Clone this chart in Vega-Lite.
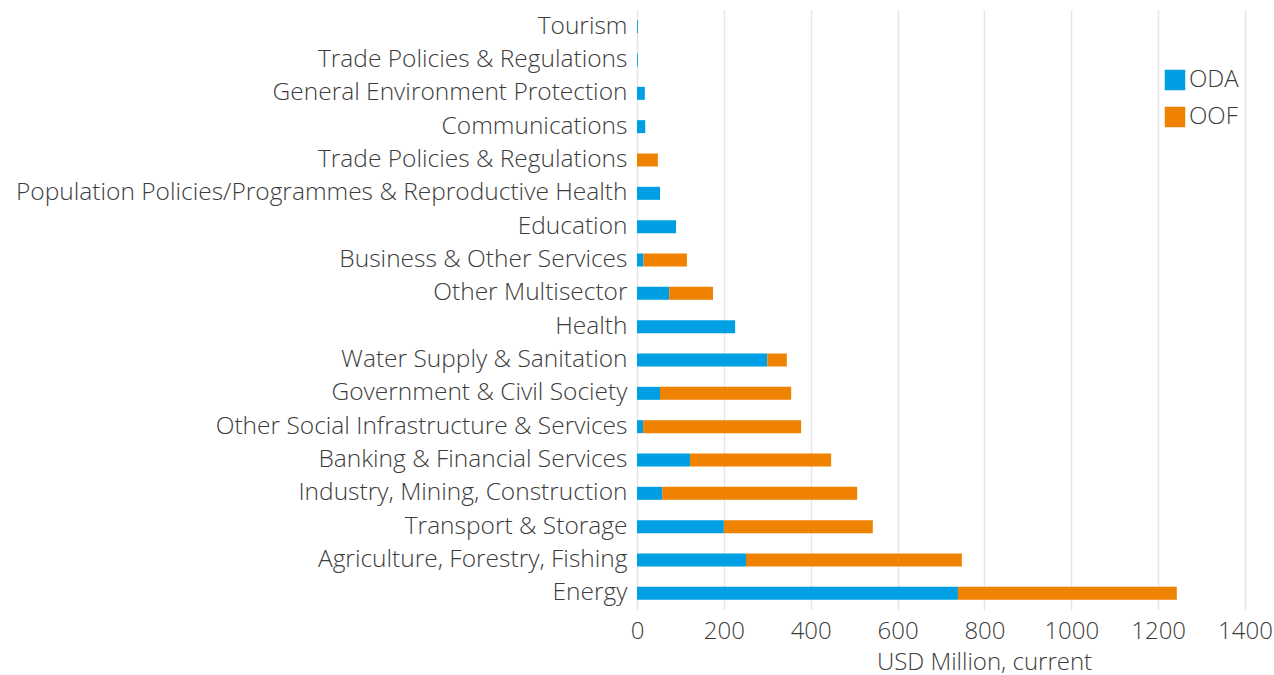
{
  "$schema": "https://vega.github.io/schema/vega-lite/v6.json",
  "width": 608,
  "height": 600,
  "padding": {"left": 15, "top": 10, "right": 5, "bottom": 3},
  "autosize": {"type": "pad"},
  "background": "white",
  "config": {
    "font": "Open Sans",
    "view": {"stroke": null}
  },
  "data": {
    "values": [
      {"key": "01|Tourism", "type": "ODA", "value": 2, "ord": 1},
      {"key": "02|Trade Policies & Regulations", "type": "ODA", "value": 2, "ord": 1},
      {"key": "03|General Environment Protection", "type": "ODA", "value": 18, "ord": 1},
      {"key": "04|Communications", "type": "ODA", "value": 19, "ord": 1},
      {"key": "05|Trade Policies & Regulations", "type": "OOF", "value": 48, "ord": 2},
      {"key": "06|Population Policies/Programmes & Reproductive Health", "type": "ODA", "value": 53, "ord": 1},
      {"key": "07|Education", "type": "ODA", "value": 90, "ord": 1},
      {"key": "08|Business & Other Services", "type": "ODA", "value": 15, "ord": 1},
      {"key": "08|Business & Other Services", "type": "OOF", "value": 100, "ord": 2},
      {"key": "09|Other Multisector", "type": "ODA", "value": 74, "ord": 1},
      {"key": "09|Other Multisector", "type": "OOF", "value": 101, "ord": 2},
      {"key": "10|Health", "type": "ODA", "value": 226, "ord": 1},
      {"key": "11|Water Supply & Sanitation", "type": "ODA", "value": 300, "ord": 1},
      {"key": "11|Water Supply & Sanitation", "type": "OOF", "value": 45, "ord": 2},
      {"key": "12|Government & Civil Society", "type": "ODA", "value": 53, "ord": 1},
      {"key": "12|Government & Civil Society", "type": "OOF", "value": 302, "ord": 2},
      {"key": "13|Other Social Infrastructure & Services", "type": "ODA", "value": 14, "ord": 1},
      {"key": "13|Other Social Infrastructure & Services", "type": "OOF", "value": 364, "ord": 2},
      {"key": "14|Banking & Financial Services", "type": "ODA", "value": 122, "ord": 1},
      {"key": "14|Banking & Financial Services", "type": "OOF", "value": 325, "ord": 2},
      {"key": "15|Industry, Mining, Construction", "type": "ODA", "value": 58, "ord": 1},
      {"key": "15|Industry, Mining, Construction", "type": "OOF", "value": 449, "ord": 2},
      {"key": "16|Transport & Storage", "type": "ODA", "value": 200, "ord": 1},
      {"key": "16|Transport & Storage", "type": "OOF", "value": 343, "ord": 2},
      {"key": "17|Agriculture, Forestry, Fishing", "type": "ODA", "value": 251, "ord": 1},
      {"key": "17|Agriculture, Forestry, Fishing", "type": "OOF", "value": 497, "ord": 2},
      {"key": "18|Energy", "type": "ODA", "value": 739, "ord": 1},
      {"key": "18|Energy", "type": "OOF", "value": 504, "ord": 2}
    ]
  },
  "mark": {"type": "bar", "size": 13},
  "encoding": {
    "y": {
      "field": "key",
      "type": "nominal",
      "sort": "ascending",
      "title": null,
      "axis": {
        "labelExpr": "split(datum.value, '|')[1]",
        "labelFontSize": 24.5,
        "labelFontWeight": 300,
        "labelColor": "#3c3c3c",
        "labelPadding": 10,
        "ticks": false,
        "domain": false,
        "grid": false,
        "labelLimit": 800
      }
    },
    "x": {
      "field": "value",
      "type": "quantitative",
      "aggregate": "sum",
      "stack": "zero",
      "scale": {"domain": [0, 1400], "nice": false},
      "title": "USD Million, current",
      "axis": {
        "values": [0, 200, 400, 600, 800, 1000, 1200, 1400],
        "format": "d",
        "labelFontSize": 24,
        "labelFontWeight": 300,
        "labelColor": "#3c3c3c",
        "labelPadding": 9,
        "titleFontSize": 24,
        "titleFontWeight": 300,
        "titleColor": "#3c3c3c",
        "titlePadding": 7,
        "titleX": 347,
        "titleAlign": "center",
        "ticks": false,
        "domain": false,
        "grid": true,
        "gridColor": "#e6e6e6",
        "gridWidth": 1.5,
        "labelFlush": false
      }
    },
    "color": {
      "field": "type",
      "type": "nominal",
      "scale": {"domain": ["ODA", "OOF"], "range": ["#009fe3", "#ef8200"]},
      "legend": {
        "title": null,
        "orient": "none",
        "legendX": 526,
        "legendY": 58,
        "symbolType": "square",
        "symbolSize": 420,
        "symbolStrokeWidth": 0,
        "symbolOpacity": 1,
        "labelFontSize": 24,
        "labelFontWeight": 300,
        "labelColor": "#3c3c3c",
        "labelOffset": 2,
        "rowPadding": 13
      }
    },
    "order": {"field": "ord", "type": "quantitative"}
  }
}
